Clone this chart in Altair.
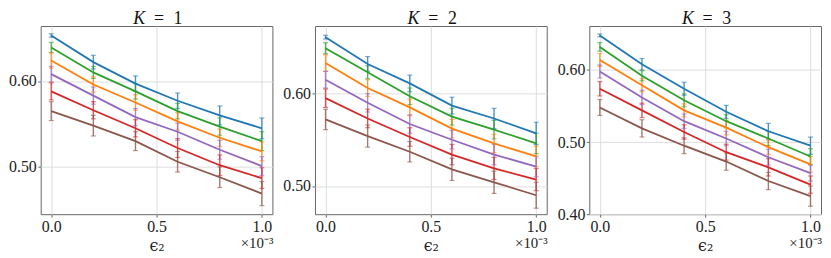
import altair as alt
import pandas as pd

# x values (in units of 1e-3)
X = [0.0, 0.2, 0.4, 0.6, 0.8, 1.0]
SERIES = ["blue", "green", "orange", "purple", "red", "brown"]
COLORS = ["#1f77b4", "#2ca02c", "#ff7f0e", "#9467bd", "#d62728", "#8c564b"]

# K = 1
k1_blue = [0.653, 0.622, 0.597, 0.577, 0.560, 0.545]
k1_green = [0.639, 0.610, 0.588, 0.565, 0.547, 0.530]
k1_orange = [0.624, 0.596, 0.575, 0.553, 0.534, 0.518]
k1_purple = [0.608, 0.583, 0.558, 0.541, 0.520, 0.501]
k1_red = [0.588, 0.566, 0.545, 0.522, 0.502, 0.487]
k1_brown = [0.565, 0.548, 0.530, 0.506, 0.488, 0.469]

# K = 2
k2_blue = [0.661, 0.632, 0.611, 0.587, 0.573, 0.557]
k2_green = [0.649, 0.623, 0.597, 0.575, 0.561, 0.546]
k2_orange = [0.633, 0.606, 0.585, 0.562, 0.546, 0.532]
k2_purple = [0.615, 0.590, 0.567, 0.550, 0.534, 0.521]
k2_red = [0.595, 0.573, 0.553, 0.534, 0.519, 0.507]
k2_brown = [0.572, 0.554, 0.537, 0.518, 0.504, 0.490]

# K = 3
k3_blue = [0.648, 0.608, 0.574, 0.542, 0.515, 0.495]
k3_green = [0.632, 0.592, 0.558, 0.529, 0.505, 0.480]
k3_orange = [0.614, 0.579, 0.544, 0.520, 0.493, 0.469]
k3_purple = [0.598, 0.562, 0.529, 0.505, 0.479, 0.457]
k3_red = [0.574, 0.544, 0.514, 0.486, 0.465, 0.441]
k3_brown = [0.548, 0.519, 0.495, 0.473, 0.446, 0.425]

# error bar half-widths
err_blue = [0.002, 0.008, 0.009, 0.009, 0.011, 0.012]
err_green = [0.006, 0.007, 0.009, 0.009, 0.010, 0.011]
err_orange = [0.009, 0.009, 0.009, 0.010, 0.010, 0.011]
err_purple = [0.009, 0.010, 0.010, 0.010, 0.011, 0.011]
err_red = [0.010, 0.010, 0.010, 0.011, 0.012, 0.012]
err_brown = [0.011, 0.012, 0.011, 0.012, 0.012, 0.014]
ERRS = [err_blue, err_green, err_orange, err_purple, err_red, err_brown]

PANELS = [
    ("1", [k1_blue, k1_green, k1_orange, k1_purple, k1_red, k1_brown], [0.445, 0.664], [0.50, 0.60]),
    ("2", [k2_blue, k2_green, k2_orange, k2_purple, k2_red, k2_brown], [0.4695, 0.673], [0.50, 0.60]),
    ("3", [k3_blue, k3_green, k3_orange, k3_purple, k3_red, k3_brown], [0.40, 0.661], [0.40, 0.50, 0.60]),
]

FONT = "Liberation Serif"
W, H = 234, 190

color = alt.Color("s:N", scale=alt.Scale(domain=SERIES, range=COLORS), legend=None)


def panel(k, series, ydom, yticks):
    rows = []
    for name, vals, errs in zip(SERIES, series, ERRS):
        for x, v, e in zip(X, vals, errs):
            rows.append({"s": name, "x": x, "y": v, "lo": v - e, "hi": v + e})
    df = pd.DataFrame(rows)
    xs = alt.Scale(domain=[-0.05, 1.05], nice=False, zero=False)
    ys = alt.Scale(domain=ydom, nice=False, zero=False)
    xax = alt.Axis(values=[0.0, 0.5, 1.0], format=".1f", title="ϵ₂")
    yax = alt.Axis(values=yticks, format=".2f", title=None)
    base = alt.Chart(df)
    xenc = alt.X("x:Q", scale=xs, axis=xax)
    yenc = alt.Y("lo:Q", scale=ys, axis=yax)
    rules = base.mark_rule(strokeWidth=1.4, opacity=0.8).encode(
        x=xenc, y=yenc, y2="hi:Q", color=color)
    cap_lo = base.mark_tick(orient="horizontal", size=5, thickness=1.2, opacity=0.6).encode(
        x=xenc, y=yenc, color=color)
    cap_hi = base.mark_tick(orient="horizontal", size=5, thickness=1.2, opacity=0.6).encode(
        x=xenc, y=alt.Y("hi:Q", scale=ys, axis=yax), color=color)
    lines = base.mark_line(strokeWidth=1.8).encode(
        x=xenc, y=alt.Y("y:Q", scale=ys, axis=yax), color=color, detail="s:N")
    dummy = alt.Chart(pd.DataFrame({"d": [0]}))
    t_k = dummy.mark_text(text="K", font=FONT, fontSize=18, fontStyle="italic",
                          align="center", baseline="alphabetic", color="#111").encode(
        x=alt.value(W / 2 - 17.5), y=alt.value(-2))
    t_eq = dummy.mark_text(text="=", font=FONT, fontSize=18, align="center",
                           baseline="alphabetic", color="#111").encode(
        x=alt.value(W / 2 + 2.4), y=alt.value(-2))
    t_n = dummy.mark_text(text=k, font=FONT, fontSize=18, align="center",
                          baseline="alphabetic", color="#111").encode(
        x=alt.value(W / 2 + 21.7), y=alt.value(-2))
    t_off = dummy.mark_text(text="×10⁻³", font=FONT, fontSize=15, align="right",
                            baseline="alphabetic", color="#222").encode(
        x=alt.value(W + 1), y=alt.value(H + 34))
    return alt.layer(rules, cap_lo, cap_hi, lines, t_k, t_eq, t_n, t_off).properties(
        width=W, height=H)


charts = [panel(*p) for p in PANELS]

chart = alt.hconcat(*charts, spacing=8).properties(
    padding={"left": 0, "top": 0, "right": 0, "bottom": 0}
).configure_view(
    stroke="#666", strokeWidth=1
).configure_axis(
    grid=True, gridColor="#dedede", domain=False, tickSize=3, tickColor="#666",
    labelFont=FONT, labelFontSize=16, labelColor="#222", labelPadding=1.5,
    labelFlush=False, titleFont="DejaVu Serif", titleFontSize=16,
    titleFontWeight="normal", titleColor="#222", titlePadding=3
)

chart.save("out.html", embed_options={"renderer": "svg", "actions": False})
